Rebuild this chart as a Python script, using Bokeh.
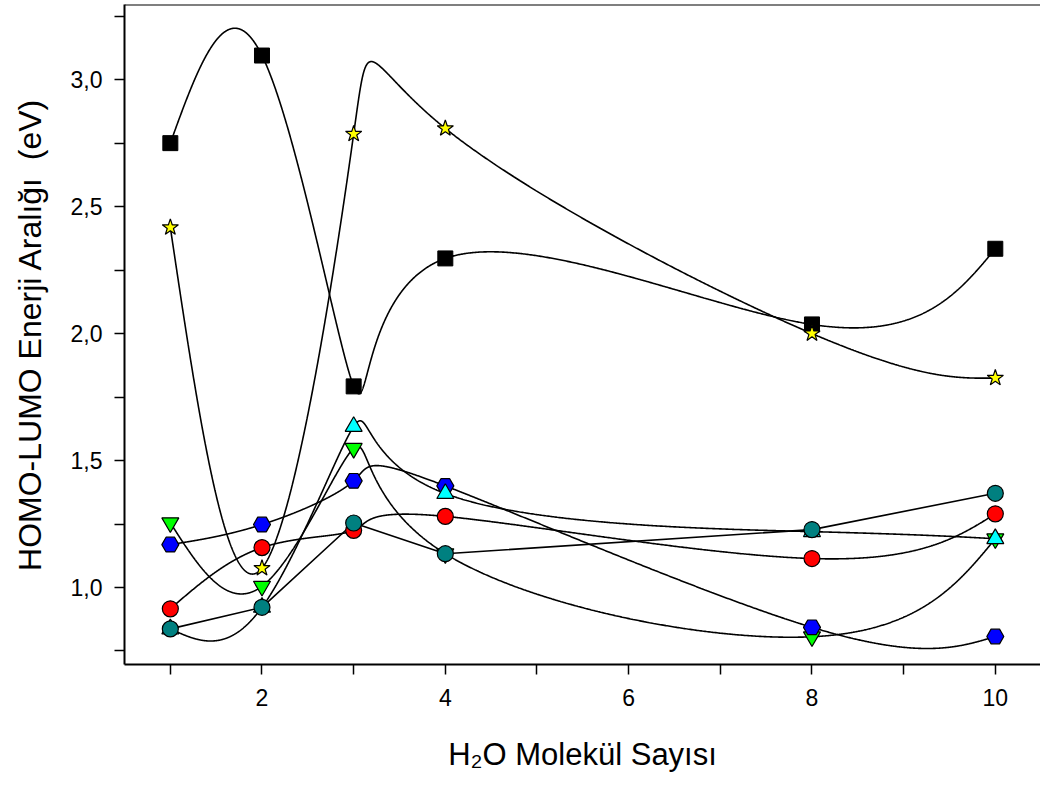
import numpy as np
from bokeh.plotting import figure
from bokeh.models import FixedTicker, Span
from bokeh.embed import file_html
from bokeh.resources import INLINE

# ---- data ----
x_vals = [1, 2, 3, 4, 8, 10]
black_sq = [2.75, 3.095, 1.792, 2.296, 2.036, 2.334]
yellow_star = [2.418, 1.076, 2.786, 2.808, 2.00, 1.825]
green_tri = [1.255, 1.005, 1.548, 1.133, 0.806, 1.192]
cyan_tri = [0.837, 0.922, 1.634, 1.37, 1.22, 1.192]
red_circ = [0.916, 1.157, 1.225, 1.28, 1.114, 1.29]
blue_hex = [1.169, 1.248, 1.42, 1.40, 0.843, 0.807]
teal_circ = [0.837, 0.922, 1.254, 1.133, 1.228, 1.371]

x_ticks = [2, 4, 6, 8, 10]
x_minor = [1, 3, 5, 7, 9]
y_ticks = [1.0, 1.5, 2.0, 2.5, 3.0]
y_tick_labels = ["1,0", "1,5", "2,0", "2,5", "3,0"]
y_minor = [0.75, 1.25, 1.75, 2.25, 2.75, 3.25]

X_START, X_END = 0.5, 10.493
Y_START, Y_END = 0.6967, 3.296


def _natural(t, v, tt):
    t = np.asarray(t, float)
    v = np.asarray(v, float)
    n = len(t)
    h = np.diff(t)
    A = np.zeros((n, n))
    b = np.zeros(n)
    A[0, 0] = 1.0
    A[-1, -1] = 1.0
    for i in range(1, n - 1):
        A[i, i - 1] = h[i - 1]
        A[i, i] = 2 * (h[i - 1] + h[i])
        A[i, i + 1] = h[i]
        b[i] = 6 * ((v[i + 1] - v[i]) / h[i] - (v[i] - v[i - 1]) / h[i - 1])
    M = np.linalg.solve(A, b)
    idx = np.clip(np.searchsorted(t, tt) - 1, 0, n - 2)
    hi = h[idx]
    a = (t[idx + 1] - tt) / hi
    c = (tt - t[idx]) / hi
    return (a * v[idx] + c * v[idx + 1]
            + ((a ** 3 - a) * M[idx] + (c ** 3 - c) * M[idx + 1]) * hi * hi / 6)


def spline_uniform(xs, ys):
    """Parametric natural cubic spline (uniform parameter) through the points."""
    t = np.arange(len(xs), dtype=float)
    tt = np.linspace(0, t[-1], 1500)
    return _natural(t, xs, tt), _natural(t, ys, tt)


p = figure(width=1040, height=780, output_backend="svg", toolbar_location=None,
           x_range=(X_START, X_END), y_range=(Y_START, Y_END),
           min_border_left=124, min_border_right=0, min_border_top=4,
           min_border_bottom=116)
p.outline_line_color = None
p.grid.visible = False

p.add_layout(Span(location=Y_END, dimension="width",
                  line_color="black", line_width=2))

FONT = "Liberation Sans"
for ax in (p.xaxis[0], p.yaxis[0]):
    ax.axis_line_width = 2
    ax.axis_line_color = "black"
    ax.major_tick_out = 10
    ax.major_tick_in = 0
    ax.minor_tick_out = 10
    ax.minor_tick_in = 0
    ax.major_tick_line_width = 1.5
    ax.minor_tick_line_width = 1.5
    ax.major_label_text_font = FONT
    ax.major_label_text_font_size = "23px"
    ax.major_label_text_color = "black"
    ax.axis_label_text_font = FONT
    ax.axis_label_text_font_style = "normal"
    ax.axis_label_text_color = "black"

p.xaxis.axis_label_text_font_size = "31px"
p.yaxis.axis_label_text_font_size = "32px"
p.xaxis.ticker = FixedTicker(ticks=x_ticks, minor_ticks=x_minor)
p.yaxis.ticker = FixedTicker(ticks=y_ticks, minor_ticks=y_minor)
p.yaxis.major_label_overrides = {t: s for t, s in zip(y_ticks, y_tick_labels)}
p.xaxis.major_label_standoff = 14
p.yaxis.major_label_standoff = 12
p.xaxis.axis_label = "H\u2082O Molekül Sayısı"
p.yaxis.axis_label = "HOMO-LUMO Enerji Aralığı\u00a0 (eV)"
p.xaxis.axis_label_standoff = 28
p.yaxis.axis_label_standoff = 20

# curves
for ys in (black_sq, yellow_star, green_tri, cyan_tri, red_circ, blue_hex):
    cx, cy = spline_uniform(x_vals, ys)
    p.line(cx, cy, line_color="black", line_width=1.6)
p.line(x_vals, teal_circ, line_color="black", line_width=1.6)

# markers
p.scatter(x_vals, black_sq, marker="square", size=15, fill_color="black",
          line_color="black")
p.scatter(x_vals, yellow_star, marker="star", size=17, fill_color="#FFFF00",
          line_color="black", line_width=1.2)
p.scatter(x_vals, green_tri, marker="inverted_triangle", size=17,
          fill_color="#00FF00", line_color="black", line_width=1.2)
p.scatter(x_vals, blue_hex, marker="hex", size=17, fill_color="#0000FF",
          line_color="black", line_width=1.2)
p.scatter(x_vals, cyan_tri, marker="triangle", size=17, fill_color="#00FFFF",
          line_color="black", line_width=1.2)
p.scatter(x_vals, red_circ, marker="circle", size=16, fill_color="#FF0000",
          line_color="black", line_width=1.2)
p.scatter(x_vals, teal_circ, marker="circle", size=16, fill_color="#008080",
          line_color="black", line_width=1.2)

open("out.html", "w").write(file_html(p, INLINE))
